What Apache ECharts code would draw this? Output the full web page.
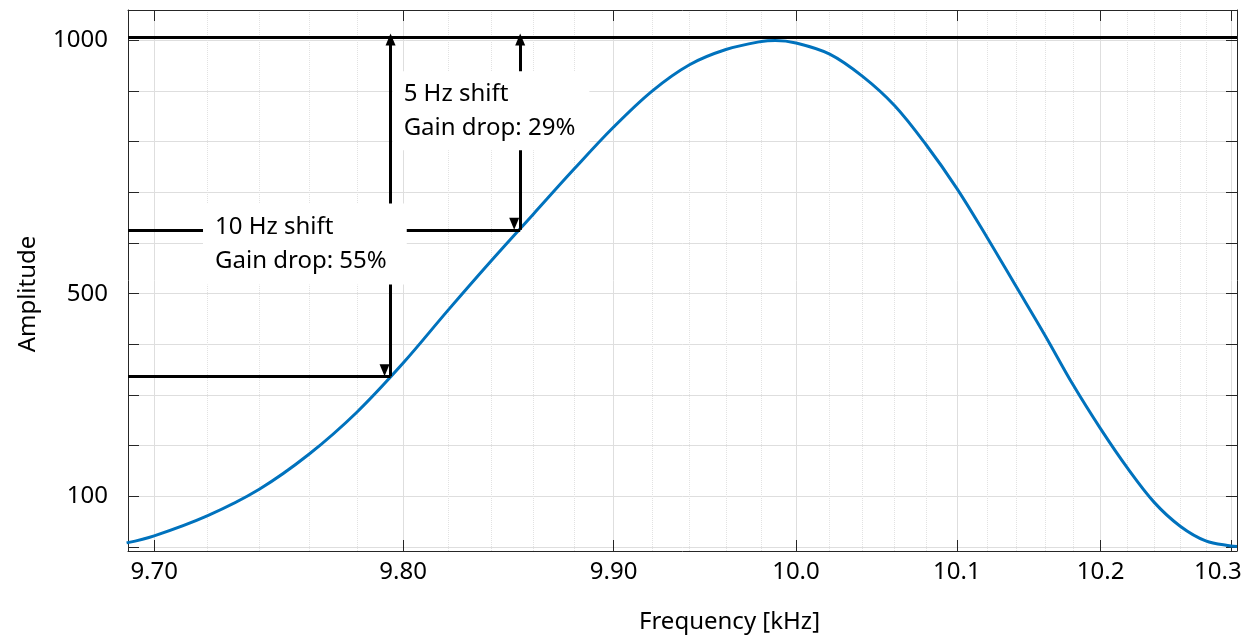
<!DOCTYPE html>
<html>
<head>
<meta charset="utf-8">
<script src="https://cdn.jsdelivr.net/npm/echarts/dist/echarts.min.js"></script>
<style>
  html, body { margin: 0; padding: 0; background: #fff; }
  #main { width: 1254px; height: 639px; }
</style>
</head>
<body>
<div id="main"></div>
<script>
// frequency axis of the original is warped: ticks sit on log(f - 9.2)
const FREQ_OFFSET = 9.2
const tx = (f) => Math.log(f - FREQ_OFFSET)

const freqKHz = [9.69, 9.70, 9.72, 9.74, 9.76, 9.78, 9.80, 9.82, 9.84, 9.86, 9.88, 9.90,
  9.92, 9.94, 9.96, 9.98, 9.988, 10.00, 10.02, 10.04, 10.06, 10.08, 10.10, 10.12,
  10.14, 10.16, 10.18, 10.20, 10.22, 10.24, 10.26, 10.28, 10.30, 10.305]
const amplitude = [8, 22, 62, 114, 183, 266, 363, 467, 565, 657, 746, 829,
  900, 952, 982, 998, 1000, 995, 973, 929, 871, 794, 708, 612,
  514, 418, 320, 233, 155, 88, 41, 12, 2, 1]

const xRange = [9.6905, 10.305]
const yRange = [-8, 1060]
const xTickValues = [9.70, 9.80, 9.90, 10.0, 10.1, 10.2, 10.3]
const xTickLabels = ['9.70', '9.80', '9.90', '10.0', '10.1', '10.2', '10.3']
const yTickValues = [0, 100, 200, 300, 400, 500, 600, 700, 800, 900, 1000]
const yLabelValues = [100, 500, 1000]

// annotations: peak level, 10 Hz / 5 Hz shift points
const peakLevel = 1006
const arrowTop = 1002
const shiftFreq = [9.7945, 9.8537]
const shiftLevel = [337, 626]
const noteText = ['10 Hz shift\nGain drop: 55%', '5 Hz shift\nGain drop: 29%']
const noteFreq = [9.7182, 9.7954]
const noteLevel = [598, 861]

const minorTicks = []
for (let k = 970; k <= 1030; k += 2) {
  if (k % 10 !== 0) minorTicks.push(tx(k / 100))
}

const FONT = 'Noto Sans'
const AXIS_COLOR = '#262626'

const chart = echarts.init(document.getElementById('main'))

const arrowLine = (i) => [
  { coord: [tx(shiftFreq[i]), arrowTop], symbol: 'triangle' },
  { coord: [tx(shiftFreq[i]), shiftLevel[i]], symbol: 'triangle' },
]
const levelLine = (i) => [
  { coord: [tx(xRange[0]), shiftLevel[i]] },
  { coord: [tx(shiftFreq[i]), shiftLevel[i]] },
]

const frameAxis = (extra) => Object.assign({
  type: 'value',
  axisLine: { show: true, onZero: false, lineStyle: { color: AXIS_COLOR, width: 1 } },
  axisLabel: { show: false },
  splitLine: { show: false },
}, extra)

chart.setOption({
  animation: false,
  grid: { left: 128, right: 17, top: 10, bottom: 84, containLabel: false },
  xAxis: [
    frameAxis({
      position: 'bottom',
      min: tx(xRange[0]),
      max: tx(xRange[1]),
      name: 'Frequency [kHz]',
      nameLocation: 'middle',
      nameGap: 59,
      nameTextStyle: { fontFamily: FONT, fontSize: 24, color: '#000', padding: [0, 0, 0, 94] },
      axisTick: { inside: true, length: 11, customValues: xTickValues.map(tx), lineStyle: { color: AXIS_COLOR } },
      axisLabel: {
        customValues: xTickValues.map(tx),
        margin: 9,
        fontFamily: FONT,
        fontSize: 24,
        color: '#000',
        formatter (v) {
          let i = xTickValues.findIndex((t) => Math.abs(tx(t) - v) < 1e-6)
          if (i < 0) return ''
          if (i === xTickValues.length - 1) return '{r|' + xTickLabels[i] + '}'
          return xTickLabels[i]
        },
        rich: { r: { fontFamily: FONT, fontSize: 24, color: '#000', padding: [0, 26, 0, 0] } },
      },
      splitLine: { show: true, lineStyle: { color: '#dedede', width: 1 } },
    }),
    frameAxis({
      position: 'top',
      min: tx(xRange[0]),
      max: tx(xRange[1]),
      axisTick: { inside: true, length: 11, customValues: xTickValues.map(tx), lineStyle: { color: AXIS_COLOR } },
    }),
    {
      // only used for the dotted minor grid
      type: 'value',
      position: 'bottom',
      min: tx(xRange[0]),
      max: tx(xRange[1]),
      axisLine: { show: false, onZero: false },
      axisTick: { show: false, customValues: minorTicks },
      axisLabel: { show: false },
      splitLine: { show: true, lineStyle: { color: '#e2e2e2', width: 1, type: 'dotted' } },
    },
  ],
  yAxis: [
    frameAxis({
      position: 'left',
      min: yRange[0],
      max: yRange[1],
      name: 'Amplitude',
      nameLocation: 'middle',
      nameGap: 88,
      nameTextStyle: { fontFamily: FONT, fontSize: 24, color: '#000', padding: [0, 27, 0, 0] },
      axisTick: { show: true, inside: true, length: 11, customValues: yTickValues, lineStyle: { color: AXIS_COLOR } },
      axisLabel: {
        customValues: yLabelValues,
        margin: 20,
        fontFamily: FONT,
        fontSize: 24,
        color: '#000',
        formatter: (v) => String(v),
      },
      splitLine: { show: true, lineStyle: { color: '#dedede', width: 1 } },
    }),
    frameAxis({
      position: 'right',
      min: yRange[0],
      max: yRange[1],
      axisTick: { show: true, inside: true, length: 11, customValues: yTickValues, lineStyle: { color: AXIS_COLOR } },
    }),
  ],
  series: [
    {
      type: 'line',
      xAxisIndex: 0,
      yAxisIndex: 0,
      data: freqKHz.map((f, i) => [tx(f), amplitude[i]]),
      smooth: 0.35,
      showSymbol: false,
      z: 2,
      lineStyle: { color: '#0072BD', width: 3 },
      itemStyle: { color: '#0072BD' },
      markLine: {
        silent: true,
        symbol: 'none',
        symbolSize: [10, 12],
        symbolOffset: [0, 6],
        label: { show: false },
        lineStyle: { color: '#000', width: 3, type: 'solid' },
        emphasis: { disabled: true },
        data: [
          { yAxis: peakLevel },
          levelLine(0),
          levelLine(1),
          arrowLine(0),
          arrowLine(1),
        ],
      },
    },
    {
      // white text boxes over the annotation lines
      type: 'scatter',
      xAxisIndex: 0,
      yAxisIndex: 0,
      z: 20,
      silent: true,
      symbolSize: 0,
      itemStyle: { opacity: 1 },
      data: noteText.map((t, i) => ({
        value: [tx(noteFreq[i]), noteLevel[i]],
        name: t,
        label: { padding: i === 0 ? [7, 20, 6, 12] : [7, 14, 4, 11] },
      })),
      label: {
        show: true,
        position: 'right',
        distance: 0,
        formatter: (p) => p.name,
        fontFamily: FONT,
        fontSize: 24,
        lineHeight: 34,
        color: '#000',
        opacity: 1,
        align: 'left',
        backgroundColor: '#fff',
      },
    },
  ],
})
</script>
</body>
</html>
